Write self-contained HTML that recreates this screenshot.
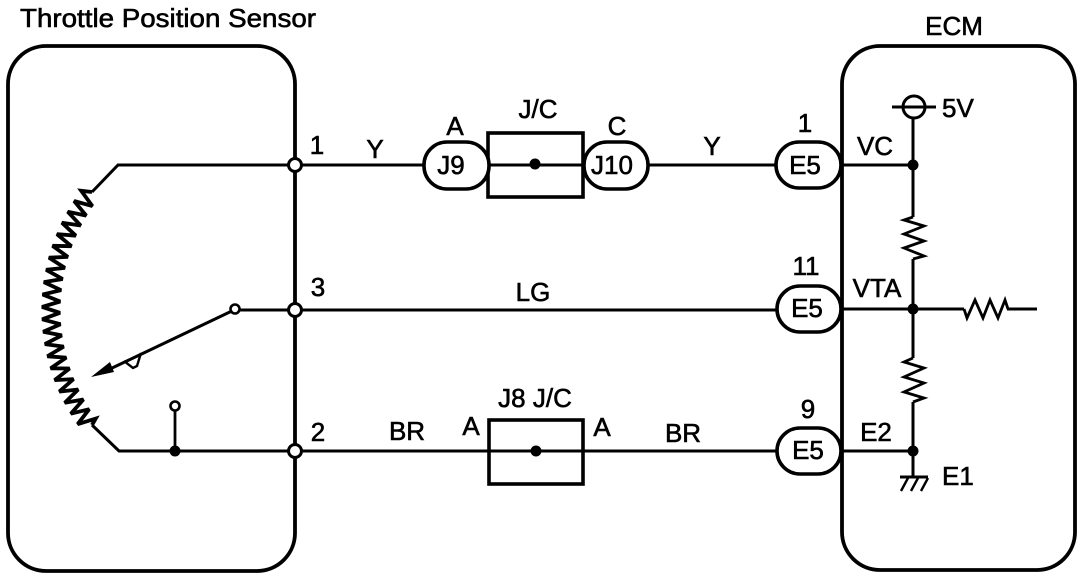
<!DOCTYPE html>
<html>
<head>
<meta charset="utf-8">
<style>
html,body{margin:0;padding:0;background:#fff;width:1088px;height:580px;overflow:hidden}
svg{display:block}
text{font-family:"Liberation Sans",sans-serif;font-size:26px;fill:#000;stroke:#000;stroke-width:.6px}
.m{text-anchor:middle}
</style>
</head>
<body>
<svg width="1088" height="580" viewBox="0 0 1088 580" xmlns="http://www.w3.org/2000/svg">
<g fill="none" stroke="#000" stroke-width="3">
  <rect x="8" y="46" width="287" height="525" rx="38" ry="38" stroke-width="3.8"/>
  <rect x="842" y="46" width="233" height="524" rx="38" ry="38" stroke-width="3.8"/>
  <!-- wires -->
  <path d="M92 192 L118 165 H295 H425"/>
  <path d="M648 165 H777"/>
  <path d="M234 310 H777"/>
  <path d="M92 425 L119 451 H777"/>
  <path d="M841 165 H913 M841 309 H964 M1007 309 H1037 M841 451 H913"/>
  <!-- inner vertical -->
  <path d="M913 118 V217 M913 259 V358 M913 402 V477"/>
  <path id="arc" stroke-width="3.8" stroke-linejoin="miter" stroke-miterlimit="3"/>
  <path d="M913 217 L904 220 L924 226 L904 234 L924 241 L904 248 L924 256 L913 259" stroke-width="2.8"/>
  <path d="M913 358 L904 362 L924 368 L904 377 L924 383 L904 392 L924 398 L913 402" stroke-width="2.8"/>
  <path d="M964 309 L967 318 L975 300 L983 318 L990 300 L998 318 L1005 300 L1008 309" stroke-width="2.8"/>
  <!-- wiper -->
  <path d="M234 310 L110 369" stroke-width="3"/>
  <path d="M124 361 L133 368 L137 366 L141 353" stroke-width="2.4"/>
  <path d="M175 406 V451" stroke-width="2.8"/>
  <!-- ground -->
  <path d="M900 477 H928" stroke-width="3"/>
  <path d="M908 478 L901 491 M918 478 L911 491 M928 478 L921 491" stroke-width="2.4"/>
</g>
<polygon points="91,377 110,362 114,372" fill="#000"/>
<g fill="#fff" stroke="#000" stroke-width="3.6">
  <circle cx="914" cy="107" r="11" stroke-width="3"/>
  <path d="M892 107 H936" fill="none" stroke-width="3"/>
  <rect x="488" y="133" width="95" height="64"/>
  <rect x="489" y="420" width="94" height="64"/>
  <rect x="424" y="142" width="65" height="47" rx="23" ry="23"/>
  <rect x="584" y="142" width="64" height="47" rx="23" ry="23"/>
  <rect x="776" y="142" width="65" height="46" rx="23" ry="23"/>
  <rect x="777" y="286" width="64" height="46" rx="23" ry="23"/>
  <rect x="777" y="428" width="64" height="46" rx="23" ry="23"/>
  <circle cx="295" cy="165" r="6.5" stroke-width="3"/>
  <circle cx="295" cy="310" r="6.5" stroke-width="3"/>
  <circle cx="295" cy="451" r="6.5" stroke-width="3"/>
  <circle cx="235" cy="309" r="4.5" stroke-width="2.6"/>
  <circle cx="175" cy="406" r="4.5" stroke-width="2.6"/>
</g>
<path d="M489 165 H583 M490 451 H583" stroke="#000" stroke-width="3" fill="none"/>
<g fill="#000">
  <circle cx="535" cy="164" r="5.5"/>
  <circle cx="536" cy="451" r="5.5"/>
  <circle cx="175" cy="451" r="5.5"/>
  <circle cx="913" cy="165" r="5.5"/>
  <circle cx="913" cy="309" r="5.5"/>
  <circle cx="913" cy="451" r="5.5"/>
</g>
<text x="20" y="27" textLength="296" lengthAdjust="spacingAndGlyphs">Throttle Position Sensor</text>
<text x="954" y="35" class="m">ECM</text>
<text x="317" y="154" class="m">1</text>
<text x="318" y="296" class="m">3</text>
<text x="318" y="441" class="m">2</text>
<text x="375" y="158" class="m">Y</text>
<text x="712" y="155" class="m">Y</text>
<text x="455" y="135" class="m">A</text>
<text x="538" y="118" class="m">J/C</text>
<text x="617" y="135" class="m">C</text>
<text x="451" y="174" class="m">J9</text>
<text x="612" y="174" class="m">J10</text>
<text x="805" y="174" class="m">E5</text>
<text x="805" y="132" class="m">1</text>
<text x="806" y="275" class="m">11</text>
<text x="807" y="317" class="m">E5</text>
<text x="808" y="418" class="m">9</text>
<text x="808" y="459" class="m">E5</text>
<text x="533" y="301" class="m">LG</text>
<text x="407" y="440" class="m">BR</text>
<text x="471" y="435" class="m">A</text>
<text x="535" y="407" class="m">J8 J/C</text>
<text x="602" y="436" class="m">A</text>
<text x="683" y="442" class="m">BR</text>
<text x="875" y="155" class="m">VC</text>
<text x="877" y="297" class="m">VTA</text>
<text x="876" y="441" class="m">E2</text>
<text x="942" y="117">5V</text>
<text x="942" y="485">E1</text>
<script>
var cx=243,cy=310,r=192,a0=Math.PI+0.635,a1=Math.PI-0.635,n=41,d="M92 192";
for(var i=0;i<=n;i++){var a=a0+(a1-a0)*i/n,q=r+(i%2?-9:9);d+=" L"+(cx+q*Math.cos(a)).toFixed(1)+" "+(cy+q*Math.sin(a)).toFixed(1);}
d+=" L92 425";
document.getElementById("arc").setAttribute("d",d);
</script>
</svg>
</body>
</html>
